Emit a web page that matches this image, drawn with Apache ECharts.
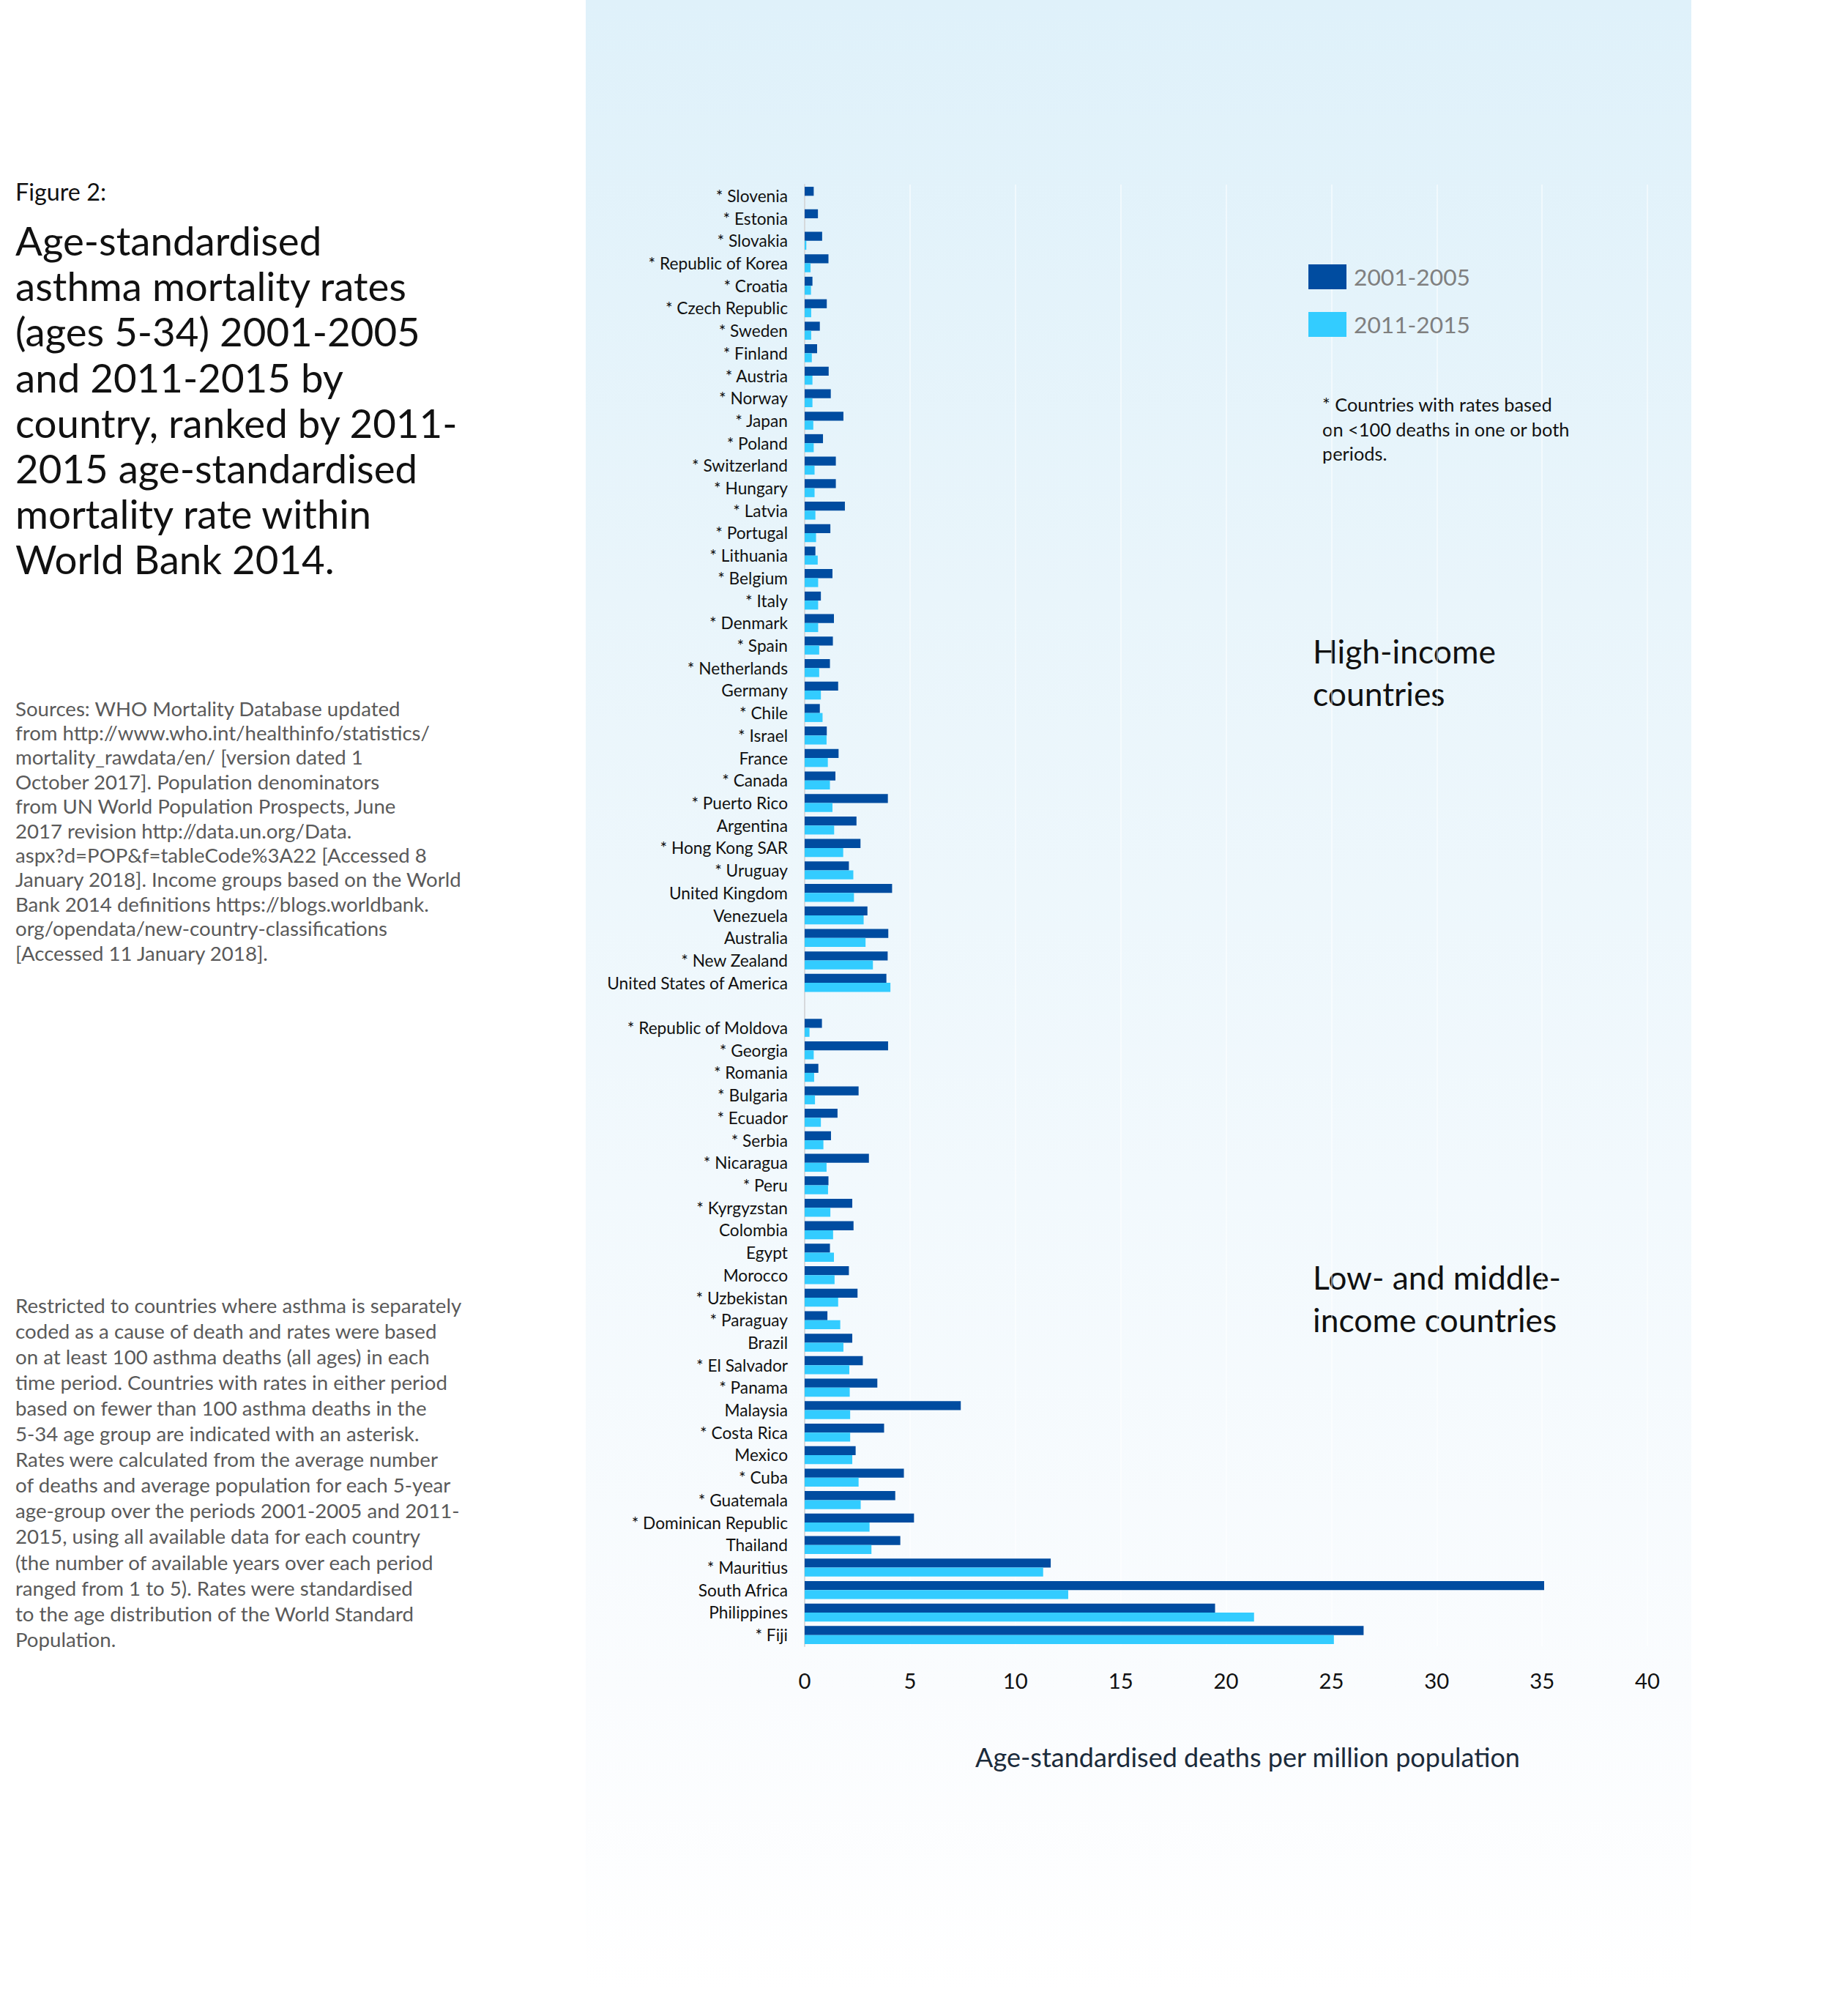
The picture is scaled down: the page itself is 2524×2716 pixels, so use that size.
<!DOCTYPE html>
<html>
<head>
<meta charset="utf-8">
<script src="https://cdn.jsdelivr.net/npm/echarts@6/dist/echarts.min.js"></script>
<style>
html,body{margin:0;padding:0;background:#ffffff;}
#bg{position:absolute;left:800px;top:0;width:1510px;height:2716px;
 background:linear-gradient(to bottom,#dff1fa 0%,#e9f5fb 30%,#f2f9fd 60%,#fafcfe 85%,#ffffff 100%);}
#chart{position:absolute;left:0;top:0;width:2524px;height:2716px;}
</style>
</head>
<body>
<div id="bg"></div>
<div id="chart"></div>
<script>
// ---------- data ----------
const highCountries = ['* Slovenia','* Estonia','* Slovakia','* Republic of Korea','* Croatia','* Czech Republic','* Sweden','* Finland','* Austria','* Norway','* Japan','* Poland','* Switzerland','* Hungary','* Latvia','* Portugal','* Lithuania','* Belgium','* Italy','* Denmark','* Spain','* Netherlands','Germany','* Chile','* Israel','France','* Canada','* Puerto Rico','Argentina','* Hong Kong SAR','* Uruguay','United Kingdom','Venezuela','Australia','* New Zealand','United States of America'];
const highP1 = [0.43,0.63,0.83,1.13,0.37,1.05,0.72,0.59,1.14,1.24,1.84,0.87,1.48,1.48,1.91,1.22,0.51,1.32,0.77,1.39,1.34,1.20,1.59,0.72,1.05,1.61,1.46,3.95,2.46,2.65,2.10,4.15,2.98,3.97,3.94,3.88];
const highP2 = [0,0,0.08,0.28,0.30,0.31,0.31,0.34,0.37,0.37,0.41,0.43,0.47,0.47,0.51,0.54,0.62,0.64,0.64,0.64,0.69,0.69,0.77,0.85,1.04,1.10,1.20,1.32,1.40,1.83,2.31,2.34,2.80,2.89,3.24,4.07];
const lowCountries = ['* Republic of Moldova','* Georgia','* Romania','* Bulgaria','* Ecuador','* Serbia','* Nicaragua','* Peru','* Kyrgyzstan','Colombia','Egypt','Morocco','* Uzbekistan','* Paraguay','Brazil','* El Salvador','* Panama','Malaysia','* Costa Rica','Mexico','* Cuba','* Guatemala','* Dominican Republic','Thailand','* Mauritius','South Africa','Philippines','* Fiji'];
const lowP1 = [0.82,3.96,0.65,2.56,1.56,1.25,3.05,1.13,2.26,2.32,1.20,2.10,2.51,1.08,2.26,2.76,3.45,7.41,3.77,2.42,4.71,4.30,5.19,4.54,11.68,35.1,19.48,26.53];
const lowP2 = [0.23,0.43,0.45,0.49,0.77,0.89,1.04,1.11,1.22,1.35,1.39,1.42,1.59,1.69,1.84,2.12,2.14,2.16,2.16,2.26,2.56,2.66,3.08,3.17,11.32,12.51,21.33,25.12];
const seriesNames = ['2001-2005','2011-2015'];
const xTicks = {min:0, max:40, interval:5};
const axisTitle = 'Age-standardised deaths per million population';
const figLabel = 'Figure 2:';
const titleLines = ['Age-standardised','asthma mortality rates','(ages 5-34) 2001-2005','and 2011-2015 by','country, ranked by 2011-','2015 age-standardised','mortality rate within','World Bank 2014.'];
const sourceLines = ['Sources: WHO Mortality Database updated','from http://www.who.int/healthinfo/statistics/','mortality_rawdata/en/ [version dated 1','October 2017]. Population denominators','from UN World Population Prospects, June','2017 revision http://data.un.org/Data.','aspx?d=POP&f=tableCode%3A22 [Accessed 8','January 2018]. Income groups based on the World','Bank 2014 definitions https://blogs.worldbank.','org/opendata/new-country-classifications','[Accessed 11 January 2018].'];
const restrictLines = ['Restricted to countries where asthma is separately','coded as a cause of death and rates were based','on at least 100 asthma deaths (all ages) in each','time period. Countries with rates in either period','based on fewer than 100 asthma deaths in the','5-34 age group are indicated with an asterisk.','Rates were calculated from the average number','of deaths and average population for each 5-year','age-group over the periods 2001-2005 and 2011-','2015, using all available data for each country','(the number of available years over each period','ranged from 1 to 5). Rates were standardised','to the age distribution of the World Standard','Population.'];
const noteLines = ['* Countries with rates based','on <100 deaths in one or both','periods.'];
const highLabel = ['High-income','countries'];
const lowLabel = ['Low- and middle-','income countries'];

// combined category list with a blank separator row
const categories = highCountries.concat([''], lowCountries);
const p1 = highP1.concat([null], lowP1);
const p2 = highP2.concat([null], lowP2);

// ---------- helpers ----------
const FONT = 'Lato';
const mctx = document.createElement('canvas').getContext('2d');
function fit(text, target, weight) {
  mctx.font = (weight || 'normal') + ' 100px ' + FONT;
  return 100 * target / mctx.measureText(text).width;
}
function txt(text, x, y, size, color, align) {
  return {
    type: 'text', x: x, y: y, silent: true,
    style: {text: text, fontSize: size, fontFamily: FONT, fill: color,
      align: align || 'left', verticalAlign: 'middle',
      textAlign: align || 'left', textVerticalAlign: 'middle'}
  };
}

const titleSize = fit('country, ranked by 2011-', 605);
const figSize = fit(figLabel, 124);
const srcSize = fit('January 2018]. Income groups based on the World', 610);
const resSize = fit('Restricted to countries where asthma is separately', 610);
const catSize = fit('United States of America', 248);
const legSize = fit('2001-2005', 159);
const noteSize = fit('on <100 deaths in one or both', 338);
const grpSize = fit('High-income', 250);
const axTitleSize = fit(axisTitle, 745);
const tickSize = fit('35', 34);

const graphics = [];
graphics.push(txt(figLabel, 21, 261, figSize, '#111111'));
titleLines.forEach((t, i) => graphics.push(txt(t, 21, 328 + 62.2 * i, titleSize, '#111111')));
sourceLines.forEach((t, i) => graphics.push(txt(t, 21, 967 + 33.4 * i, srcSize, '#5a5a5a')));
restrictLines.forEach((t, i) => graphics.push(txt(t, 21, 1782 + 35.1 * i, resSize, '#5a5a5a')));
noteLines.forEach((t, i) => graphics.push(txt(t, 1806, 552 + 33.6 * i, noteSize, '#111111')));
highLabel.forEach((t, i) => graphics.push(txt(t, 1793, 888 + 58.5 * i, grpSize, '#111111')));
lowLabel.forEach((t, i) => graphics.push(txt(t, 1793, 1743 + 58.5 * i, grpSize, '#111111')));
graphics.push(txt(axisTitle, 1704, 2399, axTitleSize, '#1b2b3b', 'center'));

const chart = echarts.init(document.getElementById('chart'), null, {renderer: 'svg', width: 2524, height: 2716});
chart.setOption({
  animation: false,
  backgroundColor: 'transparent',
  grid: {left: 1099, right: 274, top: 252, bottom: 468, containLabel: false},
  legend: {
    show: true, orient: 'vertical', left: 1782, top: 356,
    itemWidth: 52, itemHeight: 34, itemGap: 31, icon: 'rect',
    textStyle: {fontFamily: FONT, fontSize: legSize, color: '#7f7f7f', padding: [0, 0, 0, 5]},
    data: seriesNames
  },
  xAxis: {
    type: 'value', min: xTicks.min, max: xTicks.max, interval: xTicks.interval,
    axisLine: {show: false}, axisTick: {show: false},
    axisLabel: {fontFamily: FONT, fontSize: tickSize, color: '#111111', margin: 46, verticalAlign: 'middle'},
    splitLine: {show: true, lineStyle: {color: 'rgba(255,255,255,0.5)', width: 2}}
  },
  yAxis: {
    type: 'category', data: categories, inverse: true,
    axisLine: {show: true, lineStyle: {color: '#d6d9dc', width: 2}},
    axisTick: {show: false},
    axisLabel: {fontFamily: FONT, fontSize: catSize, color: '#111111', margin: 23, interval: 0},
    splitLine: {show: false}
  },
  series: [
    {name: seriesNames[0], type: 'bar', data: p1, itemStyle: {color: '#004ca0'}, barGap: '0%', barCategoryGap: '20%'},
    {name: seriesNames[1], type: 'bar', data: p2, itemStyle: {color: '#33ccff'}, barGap: '0%', barCategoryGap: '20%'}
  ],
  graphic: graphics
});
</script>
</body>
</html>
